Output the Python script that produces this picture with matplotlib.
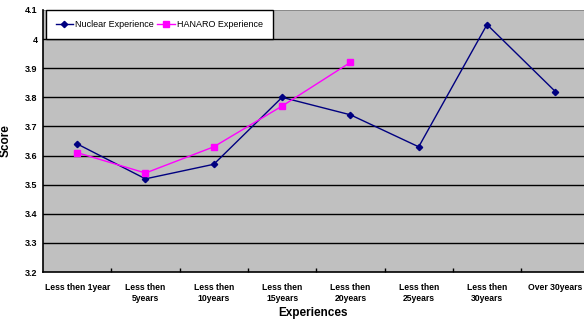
import matplotlib
matplotlib.use("Agg")
import matplotlib.pyplot as plt

categories = ["Less then 1year", "Less then\n5years", "Less then\n10years", "Less then\n15years",
              "Less then\n20years", "Less then\n25years", "Less then\n30years", "Over 30years"]
nuclear = [3.64, 3.52, 3.57, 3.80, 3.74, 3.63, 4.05, 3.82]
hanaro = [3.61, 3.54, 3.63, 3.77, 3.92]
yticks = [3.2, 3.3, 3.4, 3.5, 3.6, 3.7, 3.8, 3.9, 4.0, 4.1]
ytick_labels = ["3.2", "3.3", "3.4", "3.5", "3.6", "3.7", "3.8", "3.9", "4", "4.1"]

plt.rcParams['font.family'] = ['Liberation Sans', 'DejaVu Sans']
fig = plt.figure(figsize=(5.84, 3.2), dpi=100)
ax = fig.add_axes([43/584, 48/320, 1 - 43/584, 262/320])
ax.set_facecolor("#c0c0c0")

x = list(range(len(categories)))
ax.plot(x, nuclear, color="#000080", marker="D", markersize=3.2, linewidth=1.0, label="Nuclear Experience")
ax.plot(x[:len(hanaro)], hanaro, color="#ff00ff", marker="s", markersize=4.2, linewidth=1.0, label="HANARO Experience")

ax.set_ylim(3.2, 4.1)
ax.set_xlim(-0.5, 7.42)
ax.set_yticks(yticks)
ax.set_yticklabels(ytick_labels, fontsize=6.5, fontweight="bold")
for yv in yticks[1:-1]:
    ax.axhline(yv, color="black", linewidth=1.0, zorder=1)
ax.axhline(4.1, color="#808080", linewidth=1.2, zorder=1)

ax.set_xticks([i + 0.5 for i in range(7)])
ax.set_xticklabels([])
ax.set_xticks(x, minor=True)
ax.set_xticklabels(categories, minor=True, fontsize=6.2, fontweight="bold", linespacing=1.25)
ax.tick_params(axis="x", which="minor", length=0, pad=8)
ax.tick_params(axis="x", which="major", direction="in", length=3, width=1)
ax.tick_params(axis="y", length=0, pad=4)

for s in ["top", "right"]:
    ax.spines[s].set_visible(False)
ax.spines["left"].set_linewidth(1.2)
ax.spines["bottom"].set_linewidth(1.2)

ax.set_ylabel("Score", fontsize=8.5, fontweight="bold")
ax.yaxis.set_label_coords(-31/541, 0.5)
ax.set_xlabel("Experiences", fontsize=8.5, fontweight="bold")
ax.xaxis.set_label_coords((313 - 43)/541, -35/262)

leg = ax.legend(loc="upper left", bbox_to_anchor=(0.005, 1.0), ncol=2, fontsize=6.5, frameon=True,
                fancybox=False, edgecolor="black", framealpha=1, handlelength=1.9, handletextpad=0.25,
                columnspacing=0.4, borderpad=1.1, borderaxespad=0)
leg.get_frame().set_linewidth(1.0)

fig.savefig("out.png", dpi=100)
